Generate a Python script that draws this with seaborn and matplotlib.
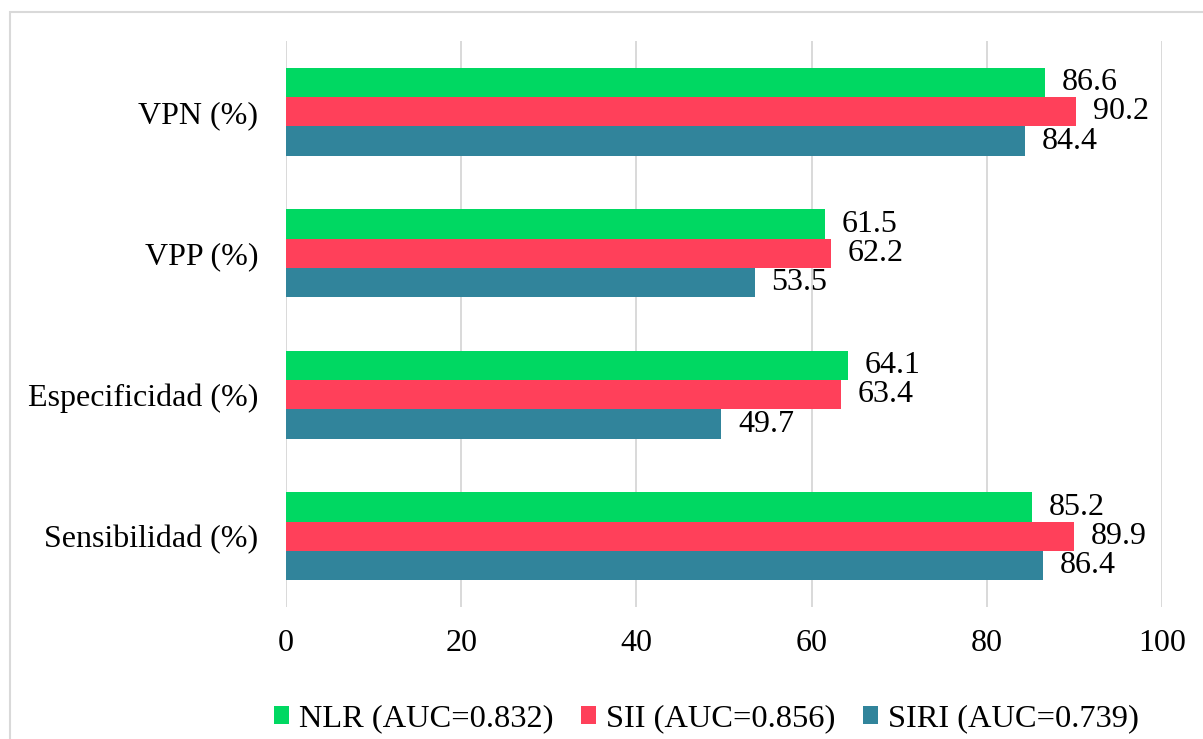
import matplotlib
matplotlib.use("Agg")
import matplotlib.pyplot as plt
import seaborn as sns
import pandas as pd
from matplotlib.patches import Patch, Rectangle

# Diagnostic metrics per inflammatory index
categories = ["VPN (%)", "VPP (%)", "Especificidad (%)", "Sensibilidad (%)"]
series_names = ["NLR (AUC=0.832)", "SII (AUC=0.856)", "SIRI (AUC=0.739)"]
nlr_values = [86.6, 61.5, 64.1, 85.2]
sii_values = [90.2, 62.2, 63.4, 89.9]
siri_values = [84.4, 53.5, 49.7, 86.4]
x_ticks = [0, 20, 40, 60, 80, 100]

colors = ["#00D862", "#FF405A", "#31849B"]

df = pd.DataFrame({
    "Indicador": categories * 3,
    "Serie": [s for s in series_names for _ in categories],
    "Valor": nlr_values + sii_values + siri_values,
})

sns.set_theme(style="white")
plt.rcParams["font.family"] = ["Liberation Serif", "DejaVu Serif"]
plt.rcParams["text.color"] = "black"
plt.rcParams["xtick.color"] = "black"
plt.rcParams["ytick.color"] = "black"

fig = plt.figure(figsize=(12.03, 7.39), dpi=100)
ax = fig.add_axes([0.2377, 0.1786, 0.966 - 0.2377, 0.9445 - 0.1786])

sns.barplot(data=df, y="Indicador", x="Valor", hue="Serie",
            order=categories, hue_order=series_names, palette=colors,
            orient="h", width=0.62, gap=0, saturation=1, errorbar=None,
            linewidth=0, ax=ax, legend=False)

for container in ax.containers:
    ax.bar_label(container, fmt="%.1f", padding=12, fontsize=23, color="black")

ax.set_xlim(0, 100)
ax.set_ylim(3.5, -0.5)
ax.set_xticks(x_ticks)
ax.set_xticklabels([str(t) for t in x_ticks], fontsize=23)
ax.tick_params(axis="x", length=0, pad=16, labelcolor="black")
ax.tick_params(axis="y", length=0, pad=20, labelsize=23, labelcolor="black")
ax.set_xlabel("")
ax.set_ylabel("")
ax.xaxis.grid(True, color="#D9D9D9", linewidth=1.4)
ax.yaxis.grid(False)
ax.set_axisbelow(True)
for side in ["top", "right", "bottom", "left"]:
    ax.spines[side].set_visible(False)

handles = [Patch(facecolor=c, edgecolor="none", label=n) for c, n in zip(colors, series_names)]
fig.legend(handles=handles, loc="center", bbox_to_anchor=(0.587, 0.027), ncol=3,
           frameon=False, fontsize=23.4, handlelength=0.47, handleheight=0.47,
           handletextpad=0.3, columnspacing=0.85, labelcolor="black")

# Light frame around the chart area
fig.patches.append(Rectangle((10 / 1203, -0.01), 1.0, 1 - 12 / 739 + 0.01,
                             transform=fig.transFigure, fill=False,
                             edgecolor="#D9D9D9", linewidth=1.5))

fig.savefig("out.png", dpi=100)
